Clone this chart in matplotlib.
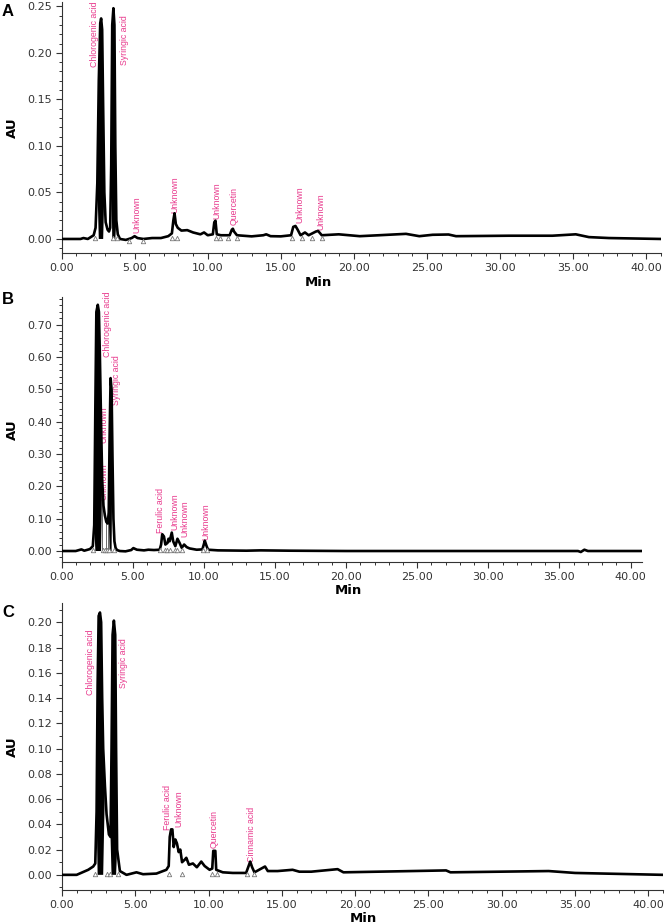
"""
HPLC chromatograms (panels A, B, C) - absorbance (AU) vs retention time (min)
"""

import numpy as np
import matplotlib
matplotlib.use('Agg')
import matplotlib.pyplot as plt
from matplotlib.ticker import MultipleLocator, FormatStrFormatter
from matplotlib import font_manager

# ---------------- data ----------------
# panel A
a_time = [0.0, 1.3, 1.5, 1.8, 2.0, 2.2, 2.33, 2.45, 2.55, 2.65, 2.71, 2.78, 2.85, 2.93,
          3.02, 3.15, 3.25, 3.33, 3.4, 3.47, 3.55, 3.62, 3.68, 3.75, 3.85, 4.0, 4.4, 4.8,
          5.0, 5.2, 5.6, 6.2, 6.8, 7.3, 7.55, 7.65, 7.73, 7.82, 7.95, 8.2, 8.6, 9.0, 9.5,
          9.75, 10.0, 10.35, 10.45, 10.53, 10.62, 10.9, 11.5, 11.65, 11.72, 11.8, 12.0,
          13.0, 13.8, 14.0, 14.3, 15.0, 15.7, 15.85, 16.0, 16.15, 16.35, 16.65, 16.9,
          17.4, 17.55, 17.8, 18.96, 20.4, 21.7, 23.56, 24.47, 25.38, 26.47, 26.98, 30.6,
          33.57, 35.17, 36.07, 37.44, 41.0]
a_au = [0.0, 0.0, 0.001, 0.0, 0.002, 0.004, 0.012, 0.06, 0.17, 0.232, 0.237, 0.225, 0.14,
        0.05, 0.018, 0.01, 0.008, 0.012, 0.08, 0.23, 0.248, 0.23, 0.1, 0.02, 0.005, 0.0,
        -0.001, 0.001, 0.003, 0.001, 0.0, 0.001, 0.001, 0.003, 0.006, 0.02, 0.0276, 0.016,
        0.012, 0.009, 0.0095, 0.007, 0.005, 0.007, 0.004, 0.005, 0.018, 0.0197, 0.005,
        0.004, 0.004, 0.01, 0.011, 0.008, 0.004, 0.0028, 0.004, 0.005, 0.003, 0.0028,
        0.004, 0.013, 0.014, 0.01, 0.004, 0.007, 0.004, 0.008, 0.0086, 0.004, 0.005,
        0.003, 0.004, 0.0055, 0.003, 0.0045, 0.0048, 0.003, 0.0035, 0.0035, 0.005, 0.002,
        0.001, 0.0]
a_marks = [2.3, 3.5, 3.82, 4.65, 5.56, 7.55, 7.89, 10.58, 10.86, 11.38, 12.0,
           15.77, 16.45, 17.14, 17.82]
a_names = ['Chlorogenic acid', 'Syringic acid', 'Unknown', 'Unknown', 'Unknown',
           'Quercetin', 'Unknown', 'Unknown']
a_name_t = [2.29, 4.3, 5.15, 7.73, 10.63, 11.84, 16.27, 17.71]
a_name_y = [0.185, 0.187, 0.006, 0.0276, 0.022, 0.015, 0.017, 0.0097]

# panel B
b_time = [0.0, 1.0, 1.4, 1.6, 2.0, 2.2, 2.3, 2.38, 2.45, 2.55, 2.63, 2.7, 2.78, 2.86,
          2.95, 3.05, 3.15, 3.25, 3.32, 3.38, 3.45, 3.52, 3.58, 3.65, 3.72, 3.8, 3.9,
          4.1, 4.5, 4.9, 5.05, 5.3, 5.8, 6.1, 6.5, 6.9, 7.0, 7.08, 7.2, 7.3, 7.45, 7.52,
          7.6, 7.75, 7.85, 8.0, 8.15, 8.3, 8.45, 8.62, 8.8, 9.0, 9.5, 9.9, 10.0, 10.07,
          10.2, 10.3, 11.0, 13.0, 14.0, 16.0, 20.0, 30.0, 36.3, 36.5, 36.75, 37.0, 40.8]
b_au = [0.0, 0.0, 0.005, 0.001, 0.006, 0.015, 0.08, 0.45, 0.74, 0.762, 0.74, 0.6, 0.4,
        0.22, 0.14, 0.11, 0.09, 0.085, 0.12, 0.35, 0.535, 0.5, 0.3, 0.1, 0.03, 0.01,
        0.003, 0.0, -0.001, 0.003, 0.009, 0.004, 0.002, 0.004, 0.003, 0.004, 0.02, 0.052,
        0.045, 0.02, 0.025, 0.038, 0.03, 0.057, 0.03, 0.015, 0.038, 0.025, 0.01, 0.02,
        0.012, 0.008, 0.004, 0.005, 0.02, 0.032, 0.015, 0.004, 0.002, 0.001, 0.002,
        0.001, 0.0, 0.0, 0.0, -0.003, 0.004, 0.0, 0.0]
b_marks = [2.18, 2.9, 3.05, 3.2, 3.35, 3.7, 6.95, 7.3, 7.45, 7.65, 7.95, 8.1, 8.45, 9.95, 10.25]
b_drops = [2.86, 3.1, 3.27, 3.44]
b_names = ['Chlorogenic acid', 'Syringic acid', 'Unknown', 'Unknown', 'Ferulic acid',
           'Unknown', 'Unknown', 'Unknown']
b_name_t = [3.23, 3.88, 2.95, 3.0, 6.95, 7.99, 8.7, 10.12]
b_name_y = [0.60, 0.452, 0.333, 0.158, 0.055, 0.065, 0.044, 0.034]

# panel C
c_time = [0.0, 1.0, 1.79, 2.13, 2.27, 2.36, 2.43, 2.5, 2.59, 2.67, 2.74, 2.81, 2.93, 3.04,
          3.2, 3.31, 3.38, 3.45, 3.54, 3.63, 3.69, 3.76, 3.95, 4.4, 5.08, 5.53, 6.44,
          7.12, 7.28, 7.35, 7.44, 7.53, 7.62, 7.73, 7.84, 7.96, 8.07, 8.19, 8.37, 8.48,
          8.66, 8.93, 9.2, 9.5, 9.73, 10.07, 10.25, 10.32, 10.46, 10.52, 10.97, 11.65,
          12.56, 12.7, 12.84, 12.97, 13.13, 13.85, 14.04, 14.71, 15.73, 16.19, 17.0,
          18.8, 19.2, 26.2, 26.5, 33.2, 35.0, 39.0, 41.0]
c_au = [0.0, 0.0, 0.004, 0.0066, 0.009, 0.05, 0.15, 0.205, 0.2077, 0.2, 0.14, 0.1, 0.07,
        0.048, 0.032, 0.03, 0.1, 0.19, 0.2013, 0.19, 0.1, 0.02, 0.003, 0.0, 0.002,
        0.0005, 0.001, 0.004, 0.007, 0.03, 0.036, 0.036, 0.022, 0.028, 0.025, 0.018,
        0.02, 0.01, 0.012, 0.0135, 0.008, 0.009, 0.006, 0.0105, 0.007, 0.004, 0.005,
        0.019, 0.019, 0.004, 0.002, 0.0015, 0.0015, 0.006, 0.0105, 0.006, 0.002, 0.0066,
        0.003, 0.003, 0.004, 0.0025, 0.0025, 0.0045, 0.002, 0.0035, 0.002, 0.003, 0.0015,
        0.0005, 0.0]
c_marks = [2.25, 3.1, 3.3, 3.8, 7.3, 8.2, 10.2, 10.6, 12.6, 13.1]
c_names = ['Chlorogenic acid', 'Syringic acid', 'Ferulic acid', 'Unknown', 'Quercetin',
           'Cinnamic acid']
c_name_t = [1.95, 4.17, 7.19, 7.96, 10.36, 12.9]
c_name_y = [0.1425, 0.148, 0.0356, 0.038, 0.021, 0.0105]

# ---------------- style ----------------
FIG_W, FIG_H = 668, 924
PINK = '#e8388c'
TICK_COLOR = '#333333'

installed = {f.name for f in font_manager.fontManager.ttflist}
PEAK_FONT = 'Liberation Sans Narrow' if 'Liberation Sans Narrow' in installed else 'Liberation Sans'
PEAK_SIZE = 7.5 if PEAK_FONT == 'Liberation Sans Narrow' else 6.3

plt.rcParams['font.family'] = ['DejaVu Sans']


def px_axes(fig, left, right, top, bottom):
    """axes rectangle given in pixel coords of the reference image"""
    return fig.add_axes([left / FIG_W, 1 - bottom / FIG_H,
                         (right - left) / FIG_W, (bottom - top) / FIG_H])


def draw_panel(ax, t, au, marks, drops, names, name_t, name_y,
               xmax, ylim, ymajor, yminor):
    t = np.asarray(t)
    au = np.asarray(au)
    ax.plot(t, au, color='black', lw=1.9, solid_joinstyle='round', zorder=3)
    # noisy detector signal makes the cores of the big peaks look solid black
    ax.fill_between(t, au, 0, where=au > 0.4 * au.max(), interpolate=True,
                    color='black', lw=0, zorder=3)

    # integration markers at the baseline
    span = ylim[1] - ylim[0]
    base = np.minimum(np.interp(marks, t, au), 0.01 * span)
    ax.plot(marks, base - span * 0.008, ls='none', marker='^', ms=3.2,
            mfc='white', mec='#777777', mew=0.6, zorder=4)

    for d in drops:
        ax.plot([d, d], [0, np.interp(d, t, au)], color='#555555', lw=0.6, zorder=2)

    for name, xt, yt in zip(names, name_t, name_y):
        ax.text(xt, yt, name, rotation=90, ha='center', va='bottom', color=PINK,
                family=[PEAK_FONT, 'DejaVu Sans'], fontsize=PEAK_SIZE, zorder=1)

    ax.set_xlim(0, xmax)
    ax.set_ylim(*ylim)
    ax.xaxis.set_major_locator(MultipleLocator(5))
    ax.xaxis.set_minor_locator(MultipleLocator(1))
    ax.yaxis.set_major_locator(MultipleLocator(ymajor))
    ax.yaxis.set_minor_locator(MultipleLocator(yminor))
    ax.xaxis.set_major_formatter(FormatStrFormatter('%.2f'))
    ax.yaxis.set_major_formatter(FormatStrFormatter('%.2f'))

    for side in ('top', 'right'):
        ax.spines[side].set_visible(False)
    for side in ('left', 'bottom'):
        ax.spines[side].set_color(TICK_COLOR)
        ax.spines[side].set_linewidth(0.8)
    ax.tick_params(which='major', direction='out', length=4, width=0.8,
                   color=TICK_COLOR, labelcolor=TICK_COLOR, labelsize=8, pad=3)
    ax.tick_params(which='minor', direction='out', length=2.5, width=0.7, color=TICK_COLOR)


fig = plt.figure(figsize=(FIG_W / 100, FIG_H / 100), dpi=100)

panels = [
    # axes rect (px), data, limits, label positions (px)
    dict(rect=(61.5, 661, 1.7, 253.3), t=a_time, au=a_au, marks=a_marks, drops=[],
         names=a_names, nt=a_name_t, ny=a_name_y, xmax=41.0, ylim=(-0.0154, 0.255),
         ymajor=0.05, yminor=0.01, letter='A', letter_y=4, min_xy=(318, 283)),
    dict(rect=(61.5, 642, 296.7, 562), t=b_time, au=b_au, marks=b_marks, drops=b_drops,
         names=b_names, nt=b_name_t, ny=b_name_y, xmax=40.8, ylim=(-0.034, 0.787),
         ymajor=0.1, yminor=0.02, letter='B', letter_y=292, min_xy=(348, 591)),
    dict(rect=(62, 663, 603.3, 890), t=c_time, au=c_au, marks=c_marks, drops=[],
         names=c_names, nt=c_name_t, ny=c_name_y, xmax=41.0, ylim=(-0.012, 0.215),
         ymajor=0.02, yminor=0.01, letter='C', letter_y=605, min_xy=(363, 918)),
]

for p in panels:
    left, right, top, bottom = p['rect']
    ax = px_axes(fig, left, right, top, bottom)
    draw_panel(ax, p['t'], p['au'], p['marks'], p['drops'], p['names'], p['nt'], p['ny'],
               p['xmax'], p['ylim'], p['ymajor'], p['yminor'])

    # y label "AU"
    fig.text(12 / FIG_W, 1 - (top + bottom) / 2 / FIG_H, 'AU', rotation=90,
             ha='center', va='center', fontsize=9.5, fontweight='bold')

    # x label "Min"
    mx, my = p['min_xy']
    fig.text(mx / FIG_W, 1 - my / FIG_H, 'Min', ha='center', va='center',
             fontsize=9.5, fontweight='bold')

    # panel letter
    fig.text(2 / FIG_W, 1 - p['letter_y'] / FIG_H, p['letter'], ha='left', va='top',
             fontsize=12, fontweight='bold', family=['Liberation Sans', 'DejaVu Sans'])

fig.savefig('out.png', dpi=100)
